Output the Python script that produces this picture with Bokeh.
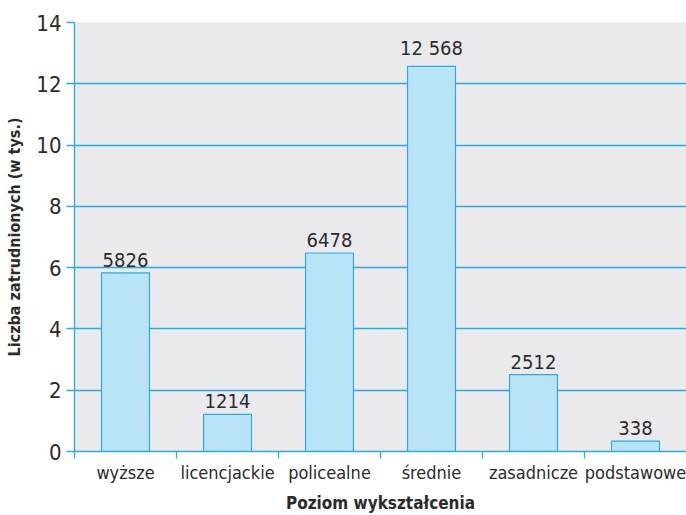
from bokeh.plotting import figure
from bokeh.models import Range1d, FixedTicker, ColumnDataSource
from bokeh.embed import file_html
from bokeh.resources import INLINE
from bokeh.core.properties import value

categories = ["wyższe", "licencjackie", "policealne", "średnie", "zasadnicze", "podstawowe"]
employed = [5826, 1214, 6478, 12568, 2512, 338]  # thousands of persons
y_ticks = [0, 2, 4, 6, 8, 10, 12, 14]

FONT = "DejaVu Sans Condensed, Roboto, sans-serif"
BLUE = "#29abe2"
TEXT = "#2b2b2b"

def fmt(v):
    return f"{v:,}".replace(",", " ") if v >= 10000 else str(v)

n = len(categories)
xs = [i + 0.5 for i in range(n)]
ys = [v / 1000 for v in employed]
labels = [fmt(v) for v in employed]

src = ColumnDataSource(dict(x=xs, y=ys, lab=labels))

p = figure(width=686, height=515, output_backend="svg", toolbar_location=None,
           x_range=Range1d(0, n), y_range=Range1d(0, 14))
p.min_border_left = 74
p.min_border_right = 0
p.min_border_top = 22
p.min_border_bottom = 62
p.background_fill_color = "#eaeaed"
p.border_fill_color = "white"
p.outline_line_color = None

p.vbar(x="x", top="y", width=0.47, bottom=0, source=src,
       fill_color="#b8e4f8", line_color=BLUE, line_width=1.2)
p.text(x="x", y="y", text="lab", source=src, text_align="center", text_baseline="bottom",
       y_offset=-6, text_font=value(FONT), text_font_size="20px", text_color=TEXT)

# grid
p.xgrid.grid_line_color = None
p.ygrid.ticker = FixedTicker(ticks=y_ticks)
p.ygrid.grid_line_color = BLUE
p.ygrid.grid_line_width = 1.3

# y axis
ya = p.yaxis[0]
ya.ticker = FixedTicker(ticks=y_ticks)
ya.axis_line_color = BLUE
ya.axis_line_width = 1.3
ya.major_tick_line_color = BLUE
ya.major_tick_line_width = 1.3
ya.major_tick_out = 8
ya.major_tick_in = 0
ya.minor_tick_line_color = None
ya.major_label_text_font = FONT
ya.major_label_text_font_size = "22px"
ya.major_label_text_color = TEXT
ya.major_label_standoff = 5
ya.axis_label = "Liczba zatrudnionych (w tys.)"
ya.axis_label_text_font = FONT
ya.axis_label_text_font_style = "bold"
ya.axis_label_text_font_size = "16px"
ya.axis_label_text_color = TEXT
ya.axis_label_standoff = 9

# x axis
xa = p.xaxis[0]
xa.ticker = FixedTicker(ticks=xs, minor_ticks=list(range(n + 1)))
xa.major_label_overrides = {x: c for x, c in zip(xs, categories)}
xa.axis_line_color = BLUE
xa.axis_line_width = 1.3
xa.major_tick_line_color = None
xa.major_tick_out = 0
xa.major_tick_in = 0
xa.minor_tick_line_color = BLUE
xa.minor_tick_line_width = 1.3
xa.minor_tick_out = 7
xa.minor_tick_in = 0
xa.major_label_text_font = FONT
xa.major_label_text_font_size = "18px"
xa.major_label_text_color = TEXT
xa.major_label_standoff = 3
xa.axis_label = "Poziom wykształcenia"
xa.axis_label_text_font = FONT
xa.axis_label_text_font_style = "bold"
xa.axis_label_text_font_size = "17px"
xa.axis_label_text_color = TEXT
xa.axis_label_standoff = 7

open("out.html", "w").write(file_html(p, INLINE))
